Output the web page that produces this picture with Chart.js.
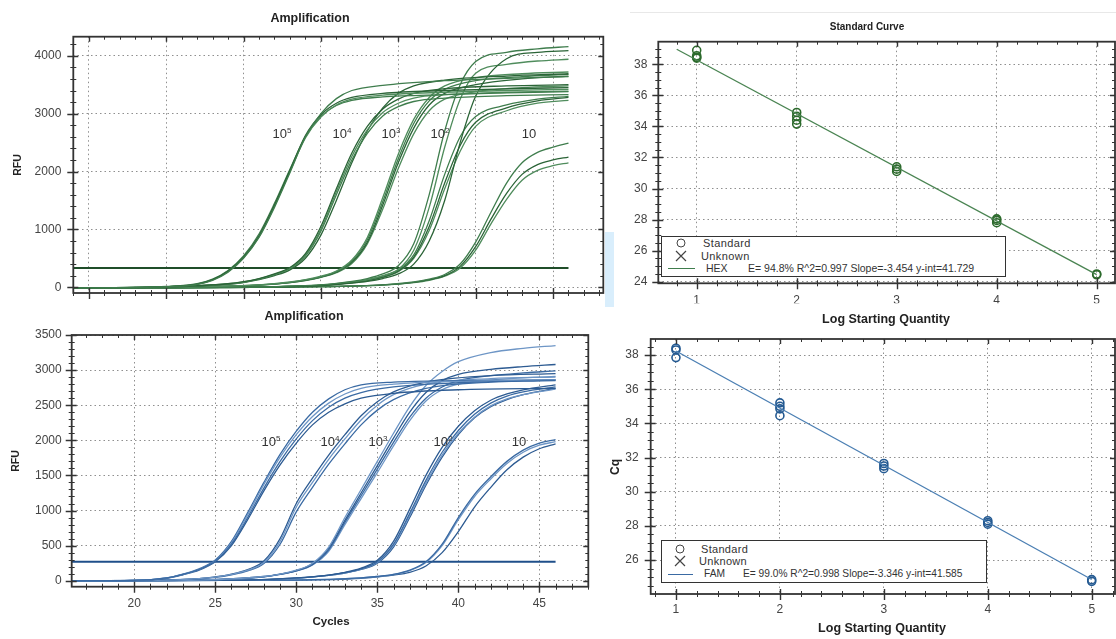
<!DOCTYPE html>
<html><head><meta charset="utf-8">
<script src="https://cdn.jsdelivr.net/npm/chart.js@4.4.0/dist/chart.umd.min.js"></script>
<style>
html,body{margin:0;padding:0;background:#fff;}
body{width:1116px;height:639px;position:relative;overflow:hidden;font-family:"Liberation Sans",Arial,sans-serif;}
canvas{position:absolute;}
.t{position:absolute;white-space:nowrap;color:#222;transform:translate(-50%,-50%);line-height:1;}
.b{font-weight:bold;}
.r{transform:translate(-50%,-50%) rotate(-90deg);}
.l{position:absolute;white-space:nowrap;color:#333;transform:translateY(-50%);line-height:1;}
.lab{position:absolute;white-space:nowrap;color:#333;font-size:13px;transform:translate(-50%,-50%);line-height:1;}
.lab sup{font-size:8px;vertical-align:5px;}
.box{position:absolute;border:1.5px solid #333;background:#fff;box-sizing:border-box;}
.circ{position:absolute;width:9px;height:9px;border:1.3px solid #444;border-radius:50%;box-sizing:border-box;transform:translate(-50%,-50%);}
</style></head><body>
<div style="position:absolute;left:630px;top:12px;width:486px;height:1px;background:#e8e8e8"></div>
<div style="position:absolute;left:605px;top:232px;width:9px;height:75px;background:#d9eefc"></div>
<canvas id="cA"></canvas>
<canvas id="cB"></canvas>
<canvas id="cC"></canvas>
<canvas id="cD"></canvas>

<div class="t b" style="left:310px;top:18px;font-size:12.5px">Amplification</div>
<div class="t b" style="left:304px;top:316px;font-size:12.5px">Amplification</div>
<div class="t b" style="left:331px;top:622px;font-size:11.5px">Cycles</div>
<div class="t b r" style="left:17px;top:165px;font-size:10.5px">RFU</div>
<div class="t b r" style="left:15px;top:461px;font-size:10.5px">RFU</div>
<div class="t b" style="left:867px;top:27px;font-size:10px">Standard Curve</div>
<div class="t b" style="left:886px;top:319px;font-size:12.5px">Log Starting Quantity</div>
<div class="t b" style="left:882px;top:628px;font-size:12.5px">Log Starting Quantity</div>
<div class="t b r" style="left:615px;top:467px;font-size:12px">Cq</div>

<div class="lab" style="left:282px;top:133px">10<sup>5</sup></div>
<div class="lab" style="left:342px;top:133px">10<sup>4</sup></div>
<div class="lab" style="left:391px;top:133px">10<sup>3</sup></div>
<div class="lab" style="left:440px;top:133px">10<sup>2</sup></div>
<div class="lab" style="left:529px;top:133px">10</div>

<div class="lab" style="left:271px;top:441px">10<sup>5</sup></div>
<div class="lab" style="left:330px;top:441px">10<sup>4</sup></div>
<div class="lab" style="left:378px;top:441px">10<sup>3</sup></div>
<div class="lab" style="left:443px;top:441px">10<sup>2</sup></div>
<div class="lab" style="left:519px;top:441px">10</div>

<!-- legend C -->
<div class="box" style="left:661px;top:236px;width:345px;height:41px"></div>
<div class="circ" style="left:681px;top:243px"></div>
<svg style="position:absolute;left:675px;top:250px" width="12" height="12"><path d="M1 1 L11 11 M11 1 L1 11" stroke="#444" stroke-width="1.2"/></svg>
<div style="position:absolute;left:668px;top:268px;width:27px;height:1.3px;background:#3f7d4d"></div>
<div class="l" style="left:703px;top:243px;font-size:11px;letter-spacing:0.4px">Standard</div>
<div class="l" style="left:701px;top:256px;font-size:11px;letter-spacing:0.4px">Unknown</div>
<div class="l" style="left:706px;top:268px;font-size:10.5px">HEX</div>
<div class="l" style="left:748px;top:268px;font-size:10.5px">E= 94.8% R^2=0.997 Slope=-3.454 y-int=41.729</div>

<!-- legend D -->
<div class="box" style="left:661px;top:540px;width:326px;height:43px"></div>
<div class="circ" style="left:680px;top:549px"></div>
<svg style="position:absolute;left:674px;top:555px" width="12" height="12"><path d="M1 1 L11 11 M11 1 L1 11" stroke="#444" stroke-width="1.2"/></svg>
<div style="position:absolute;left:668px;top:574px;width:25px;height:1.3px;background:#3a6aa3"></div>
<div class="l" style="left:701px;top:549px;font-size:11px;letter-spacing:0.3px">Standard</div>
<div class="l" style="left:699px;top:561px;font-size:11px;letter-spacing:0.3px">Unknown</div>
<div class="l" style="left:704px;top:574px;font-size:10.2px">FAM</div>
<div class="l" style="left:743px;top:574px;font-size:10.2px">E= 99.0% R^2=0.998 Slope=-3.346 y-int=41.585</div>

<script>
// ===================== DATA =====================
// --- tick labels ---
const hexCycleTicks = [15,20,25,30,35,40,45];
const hexRfuTicks   = [0,1000,2000,3000,4000];
const famCycleTicks = [20,25,30,35,40,45];
const famRfuTicks   = [0,500,1000,1500,2000,2500,3000,3500];
const qtyTicks      = [1,2,3,4,5];
const hexCqTicks    = [24,26,28,30,32,34,36,38];
const famCqTicks    = [26,28,30,32,34,36,38];

// --- HEX amplification (top-left, green) ---
const hexThreshold = 330;
const hexThresholdCycles = [14, 46];

const hex5Cycles = [14,18,20,22,23,24,25,26,27,28,29,30,31,32,34,38,42,46];
const hex5a = [-15,-5,10,50,120,260,500,860,1380,1980,2600,3000,3260,3400,3490,3570,3610,3640];
const hex5b = [-15,-5,10,55,130,280,520,890,1420,2020,2620,2980,3180,3280,3350,3400,3430,3450];
const hex5c = [-15,-5,10,50,125,270,510,870,1400,2000,2580,2940,3150,3250,3320,3370,3400,3420];
const hex5d = [-15,-5,12,60,140,290,540,920,1450,2040,2600,2950,3140,3230,3290,3330,3360,3380];

const hex4Cycles = [14,20,24,25,26,27,28,29,30,31,32,33,34,35,36,38,42,46];
const hex4a = [-15,5,60,95,150,230,340,580,1050,1700,2320,2780,3080,3250,3350,3430,3480,3500];
const hex4b = [-15,5,60,90,145,220,330,560,1000,1650,2260,2720,3020,3180,3270,3330,3370,3390];
const hex4c = [-15,5,55,85,140,215,320,540,970,1600,2200,2660,2960,3120,3210,3270,3310,3330];
const hex4d = [-15,5,50,80,130,200,300,500,900,1500,2150,2700,3100,3350,3480,3580,3650,3690];

const hex3Cycles = [14,22,26,28,29,30,31,32,33,34,35,36,37,38,40,43,46];
const hex3a = [-15,5,40,90,130,190,280,470,860,1550,2300,2900,3280,3480,3620,3690,3720];
const hex3b = [-15,5,40,85,125,180,270,450,820,1480,2220,2830,3220,3420,3570,3640,3680];
const hex3c = [-15,5,35,80,120,175,260,430,780,1420,2150,2750,3150,3350,3500,3600,3650];
const hex3d = [-15,5,35,80,115,170,250,410,750,1350,2050,2650,3050,3250,3380,3450,3480];

const hex2Cycles = [14,26,30,32,33,34,35,36,37,38,39,40,42,44,46];
const hex2a = [-15,5,40,100,150,230,370,750,1600,2700,3500,3900,4060,4120,4160];
const hex2b = [-15,5,30,70,100,150,230,400,800,1500,2500,3300,3950,4060,4090];
const hex2c = [-15,5,35,90,130,200,310,640,1380,2420,3250,3700,3850,3910,3940];
const hex2d = [-15,5,35,85,125,190,300,560,1150,1950,2600,2950,3150,3250,3300];
const hex2e = [-15,5,30,80,115,175,280,520,1050,1800,2450,2850,3100,3220,3280];
const hex2f = [-15,5,30,75,110,170,270,500,980,1700,2350,2780,3050,3180,3230];

const hex1Cycles = [14,30,34,36,37,38,39,40,41,42,43,44,45,46];
const hex1a = [-15,10,40,90,140,220,400,780,1300,1800,2150,2330,2420,2490];
const hex1b = [-15,10,40,85,130,200,360,700,1180,1620,1950,2120,2200,2250];
const hex1c = [-15,10,35,80,120,190,330,640,1100,1520,1850,2020,2100,2150];

// --- FAM amplification (bottom-left, blue) ---
const famThreshold = 271;
const famThresholdCycles = [16.1, 46];

const fam5Cycles = [16,20,22,23,24,25,26,27,28,29,30,31,32,33,34,36,40,46];
const fam5a = [0,5,40,90,160,280,520,900,1320,1700,2020,2280,2470,2600,2680,2760,2820,2850];
const fam5b = [0,5,40,90,160,285,540,940,1370,1760,2080,2340,2530,2660,2740,2800,2840,2860];
const fam5c = [0,5,35,85,150,270,500,870,1280,1650,1960,2220,2400,2520,2600,2670,2720,2740];
const fam5d = [0,5,40,95,170,295,560,970,1400,1800,2130,2400,2590,2720,2790,2830,2850,2860];

const fam4Cycles = [16,22,24,25,26,27,28,29,30,31,32,33,34,35,36,38,42,46];
const fam4a = [0,10,30,50,90,150,260,560,1050,1400,1730,2020,2290,2500,2650,2800,2880,2900];
const fam4b = [0,10,30,55,95,160,280,600,1100,1460,1790,2080,2350,2550,2690,2830,2920,2950];
const fam4c = [0,10,28,48,85,140,245,520,980,1330,1660,1950,2220,2430,2580,2740,2830,2860];

const fam3Cycles = [16,24,28,29,30,31,32,33,34,35,36,37,38,39,40,42,44,46];
const fam3a = [0,10,60,95,150,250,480,900,1300,1700,2100,2480,2780,2980,3120,3250,3310,3350];
const fam3b = [0,10,60,95,145,240,460,860,1250,1640,2030,2400,2680,2850,2940,3010,3050,3080];
const fam3c = [0,10,55,90,140,230,440,830,1210,1590,1970,2330,2600,2760,2850,2920,2960,2990];
const fam3d = [0,10,55,90,140,225,420,800,1170,1540,1920,2280,2560,2720,2800,2860,2890,2910];

const fam2Cycles = [16,26,30,32,33,34,35,36,37,38,39,40,41,42,43,44,46];
const fam2a = [0,5,40,80,120,180,290,560,1020,1500,1900,2200,2420,2570,2660,2720,2790];
const fam2b = [0,5,40,80,115,170,270,520,960,1430,1830,2140,2370,2530,2630,2690,2760];
const fam2c = [0,5,35,75,110,165,260,500,930,1390,1790,2100,2330,2490,2590,2650,2730];
const fam2d = [0,5,35,75,110,160,250,480,900,1360,1760,2080,2320,2480,2580,2650,2740];

const fam1Cycles = [16,30,34,35,36,37,38,39,40,41,42,43,44,45,46];
const fam1a = [0,10,40,60,90,150,270,520,900,1230,1480,1700,1860,1960,2010];
const fam1b = [0,10,40,60,90,145,260,500,870,1200,1450,1670,1830,1930,1980];
const fam1c = [0,10,35,55,80,120,210,400,700,1050,1330,1580,1760,1880,1950];

// --- Standard curves ---
const hexLogQty = [1,1,1,1,2,2,2,2,3,3,3,4,4,4,5,5];
const hexCq     = [38.9,38.55,38.45,38.4,34.9,34.65,34.4,34.15,31.4,31.25,31.1,28.05,27.95,27.8,24.5,24.45];
const hexFitX   = [0.8, 5];
const hexFitCq  = [38.97, 24.46];

const famLogQty = [1,1,1,2,2,2,2,3,3,3,4,4,4,5,5];
const famCq     = [38.4,38.3,37.85,35.2,35.0,34.85,34.45,31.65,31.5,31.35,28.3,28.2,28.1,24.85,24.75];
const famFitX   = [1, 5];
const famFitCq  = [38.24, 24.86];

// ===================== HELPERS =====================
const pts = (xs, ys) => xs.map((x, i) => ({x, y: ys[i]}));

const framePlugin = {
  id: 'frame',
  afterDraw(chart, args, o) {
    const {ctx, chartArea: a} = chart;
    const x = chart.scales.x, y = chart.scales.y;
    ctx.save();
    ctx.strokeStyle = o.color || '#333';
    ctx.lineWidth = 1;
    const tx = (step, inL, outL) => {
      for (let i = Math.ceil(x.min / step - 1e-9); i * step <= x.max + 1e-9; i++) {
        const p = Math.round(x.getPixelForValue(i * step)) + 0.5;
        ctx.beginPath();
        ctx.moveTo(p, a.bottom - inL); ctx.lineTo(p, a.bottom + outL);
        ctx.moveTo(p, a.top); ctx.lineTo(p, a.top + inL);
        ctx.stroke();
      }
    };
    const ty = (step, inL, outL) => {
      for (let i = Math.ceil(y.min / step - 1e-9); i * step <= y.max + 1e-9; i++) {
        const p = Math.round(y.getPixelForValue(i * step)) + 0.5;
        ctx.beginPath();
        ctx.moveTo(a.left - outL, p); ctx.lineTo(a.left + inL, p);
        ctx.moveTo(a.right, p); ctx.lineTo(a.right - inL, p);
        ctx.stroke();
      }
    };
    tx(o.xMinor, 3, 3); ty(o.yMinor, 3, 3);
    ctx.lineWidth = 1.4;
    tx(o.xMajor, 5, 6); ty(o.yMajor, 5, 6);
    ctx.lineWidth = o.bw || 1.8;
    ctx.strokeRect(a.left, a.top, a.right - a.left, a.bottom - a.top);
    ctx.restore();
  }
};

const tickFont = {family: '"Liberation Sans", Arial, sans-serif', size: 12};
const useTicks = vals => s => { s.ticks = vals.map(v => ({value: v})); };

function buildChart(id, rect, area, xH, xs, ys, datasets, frame) {
  const cv = document.getElementById(id);
  cv.width = rect.w; cv.height = rect.h;
  Object.assign(cv.style, {left: rect.x + 'px', top: rect.y + 'px', width: rect.w + 'px', height: rect.h + 'px'});
  const yW = area.l - rect.x;
  return new Chart(cv, {
    type: 'line',
    data: {datasets},
    options: {
      responsive: false, animation: false, devicePixelRatio: 1,
      layout: {autoPadding: false, padding: {left: 0, top: area.t - rect.y, right: rect.x + rect.w - area.r, bottom: rect.y + rect.h - area.b - xH}},
      plugins: {legend: {display: false}, tooltip: {enabled: false}, frame},
      elements: {line: {cubicInterpolationMode: 'monotone'}},
      scales: {
        x: {type: 'linear', min: xs.min, max: xs.max,
            afterFit: s => { s.height = xH; },
            afterBuildTicks: useTicks(xs.ticks),
            ticks: {display: xs.labels, padding: xs.pad, font: tickFont, color: '#444', maxRotation: 0, minRotation: 0, autoSkip: false, callback: v => String(v)},
            grid: {color: '#8f8f8f', lineWidth: 1, drawTicks: false},
            border: {display: false, dash: [1.5, 3]}},
        y: {type: 'linear', min: ys.min, max: ys.max,
            afterFit: s => { s.width = yW; },
            afterBuildTicks: useTicks(ys.ticks),
            ticks: {padding: ys.pad, font: tickFont, color: '#444', autoSkip: false, callback: v => String(v)},
            grid: {color: '#8f8f8f', lineWidth: 1, drawTicks: false},
            border: {display: false, dash: [1.5, 3]}}
      }
    },
    plugins: [framePlugin]
  });
}

function curveSets(groups, colors, width) {
  const out = [];
  let k = 0;
  groups.forEach(g => g.curves.forEach(c => {
    out.push({data: pts(g.cycles, c), borderColor: colors[k++ % colors.length], borderWidth: width, pointRadius: 0, fill: false});
  }));
  return out;
}

// ===================== PANEL A (HEX amplification) =====================
const hexGroups = [
  {cycles: hex5Cycles, curves: [hex5a, hex5b, hex5c, hex5d]},
  {cycles: hex4Cycles, curves: [hex4a, hex4b, hex4c, hex4d]},
  {cycles: hex3Cycles, curves: [hex3a, hex3b, hex3c, hex3d]},
  {cycles: hex2Cycles, curves: [hex2a, hex2b, hex2c, hex2d, hex2e, hex2f]},
  {cycles: hex1Cycles, curves: [hex1a, hex1b, hex1c]}
];
const dsA = curveSets(hexGroups, ['#3f7d4d', '#2b6437', '#4f8c5c'], 1.3);
dsA.push({data: pts(hexThresholdCycles, [hexThreshold, hexThreshold]), borderColor: '#1f4d29', borderWidth: 2, pointRadius: 0});
buildChart('cA', {x: 0, y: 0, w: 620, h: 318}, {l: 73.3, t: 36.7, r: 603.3, b: 293}, 8,
  {min: 14, max: 48.25, ticks: hexCycleTicks, labels: false, pad: 8},
  {min: -100, max: 4330, ticks: hexRfuTicks, pad: 12},
  dsA, {xMinor: 1, xMajor: 5, yMinor: 200, yMajor: 1000, color: '#333'});

// ===================== PANEL B (FAM amplification) =====================
const famGroups = [
  {cycles: fam5Cycles, curves: [fam5a, fam5b, fam5c, fam5d]},
  {cycles: fam4Cycles, curves: [fam4a, fam4b, fam4c]},
  {cycles: fam3Cycles, curves: [fam3a, fam3b, fam3c, fam3d]},
  {cycles: fam2Cycles, curves: [fam2a, fam2b, fam2c, fam2d]},
  {cycles: fam1Cycles, curves: [fam1a, fam1b, fam1c]}
];
const dsB = curveSets(famGroups, ['#3a6aa3', '#6e96c6', '#2d5b92'], 1.3);
dsB.push({data: pts(famThresholdCycles, [famThreshold, famThreshold]), borderColor: '#1f4f8a', borderWidth: 2, pointRadius: 0});
buildChart('cB', {x: 0, y: 305, w: 620, h: 334}, {l: 71.7, t: 335, r: 588.3, b: 586.7}, 25,
  {min: 16.14, max: 48.02, ticks: famCycleTicks, labels: true, pad: 10},
  {min: -85, max: 3500, ticks: famRfuTicks, pad: 10},
  dsB, {xMinor: 1, xMajor: 5, yMinor: 100, yMajor: 500, color: '#333'});

// ===================== PANEL C (HEX standard curve) =====================
const dsC = [
  {data: pts(hexFitX, hexFitCq), borderColor: '#4a8452', borderWidth: 1.3, pointRadius: 0, cubicInterpolationMode: 'default', tension: 0},
  {data: pts(hexLogQty, hexCq), showLine: false, pointRadius: 4, pointStyle: 'circle', pointBackgroundColor: 'rgba(0,0,0,0)', pointBorderColor: '#2c6a2c', pointBorderWidth: 1.6}
];
buildChart('cC', {x: 615, y: 0, w: 501, h: 308}, {l: 658.3, t: 41.7, r: 1115, b: 283.3}, 20,
  {min: 0.616, max: 5.183, ticks: qtyTicks, labels: true, pad: 10},
  {min: 23.9, max: 39.455, ticks: hexCqTicks, pad: 11},
  dsC, {xMinor: 0.2, xMajor: 1, yMinor: 0.5, yMajor: 2, color: '#333'});

// ===================== PANEL D (FAM standard curve) =====================
const dsD = [
  {data: pts(famFitX, famFitCq), borderColor: '#4b7fb3', borderWidth: 1.3, pointRadius: 0, cubicInterpolationMode: 'default', tension: 0},
  {data: pts(famLogQty, famCq), showLine: false, pointRadius: 4, pointStyle: 'circle', pointBackgroundColor: 'rgba(0,0,0,0)', pointBorderColor: '#245a92', pointBorderWidth: 1.6}
];
buildChart('cD', {x: 620, y: 310, w: 496, h: 329}, {l: 650.7, t: 339, r: 1115, b: 594}, 24,
  {min: 0.757, max: 5.224, ticks: qtyTicks, labels: true, pad: 8},
  {min: 24.01, max: 38.94, ticks: famCqTicks, pad: 12},
  dsD, {xMinor: 0.2, xMajor: 1, yMinor: 0.5, yMajor: 2, color: '#333'});
</script>
</body></html>
